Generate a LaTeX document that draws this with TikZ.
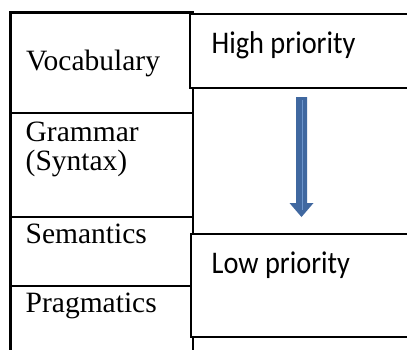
\documentclass[tikz,border=0pt]{standalone}
\usepackage{fontspec}
\setmainfont{Liberation Serif}
\newfontfamily\calfont[FakeStretch=0.9]{Carlito}
\definecolor{arrowblue}{RGB}{64,104,160}
\definecolor{arrowlight}{RGB}{110,150,205}
\begin{document}
\begin{tikzpicture}[x=1pt,y=-1pt,
  tline/.style={line width=2.2pt,black},
  pbox/.style={draw=black,line width=2pt,fill=white},
  serif/.style={font=\fontsize{29.5}{28.5}\selectfont,inner sep=0pt,anchor=base west,align=left},
  sans/.style={font=\calfont\fontsize{31.5}{33}\selectfont,inner sep=0pt,anchor=base west}]
\useasboundingbox (0,0) rectangle (407,349);
\clip (0,0) rectangle (407,349);
% table
\coordinate (tl) at (10.5,12.5);
\coordinate (tr) at (193,12.5);
\coordinate (bl) at (10.5,352);
\coordinate (br) at (193,352);
\draw[tline] (bl) -- (tl) -- (tr) -- (br);
\coordinate (r1l) at (10.5,113); \coordinate (r1r) at (193,113);
\coordinate (r2l) at (10.5,217); \coordinate (r2r) at (193,217);
\coordinate (r3l) at (10.5,286); \coordinate (r3r) at (193,286);
\draw[tline] (r1l) -- (r1r);
\draw[tline] (r2l) -- (r2r);
\draw[tline] (r3l) -- (r3r);
\node[serif] (voc) at (26,70.7) {Vocabulary};
\node[serif] (gram) at (25.5,170.2) {Grammar\\(Syntax)};
\node[serif] (sem) at (25.5,243) {Semantics};
\node[serif] (prag) at (25.5,312) {Pragmatics};
% priority boxes
\draw[pbox] (189.5,14.3) rectangle (412,88);
\draw[pbox] (191,234) rectangle (412,337);
\node[sans] (high) at (211.5,53.3) {High priority};
\node[sans] (low) at (211.5,273.3) {Low priority};
% arrow
\coordinate (atop) at (301.5,97);
\coordinate (atip) at (301.5,217);
\fill[arrowblue] (296,97) -- (307,97) -- (307,203) -- (313.5,203) -- (atip) -- (289.5,203) -- (296,203) -- cycle;
\draw[arrowlight,line width=1pt] (302.5,100) -- (302.5,210);
\end{tikzpicture}
\end{document}
